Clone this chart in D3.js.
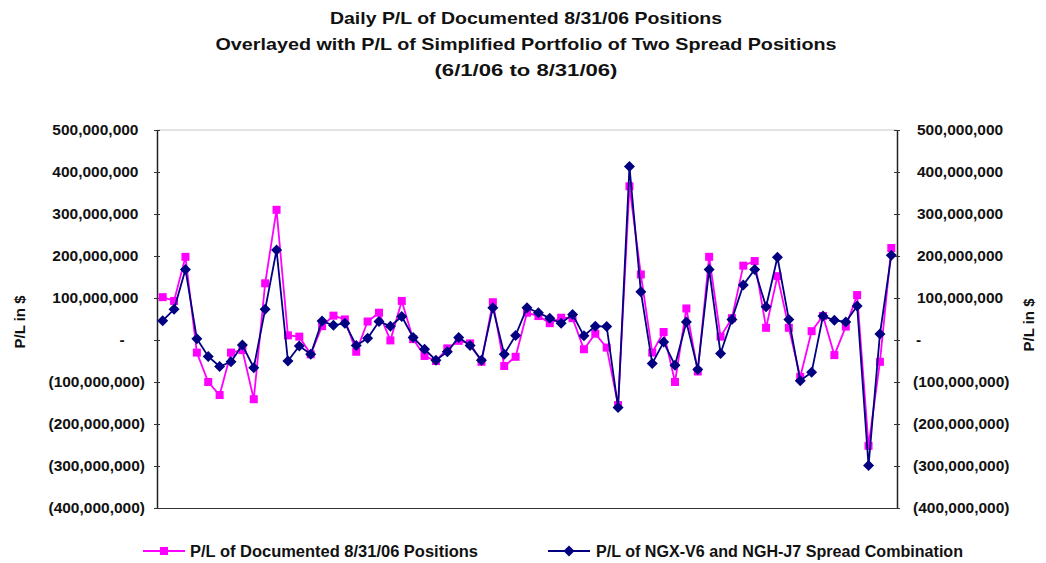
<!DOCTYPE html>
<html>
<head>
<meta charset="utf-8">
<script src="https://cdn.jsdelivr.net/npm/d3@7/dist/d3.min.js"></script>
<style>
  html, body { margin: 0; padding: 0; background: #fff; }
  svg { display: block; font-family: "Liberation Sans", Arial, sans-serif; }
</style>
</head>
<body>
<svg id="chart" width="1046" height="563"></svg>
<script>
// Trading days 6/1/06 - 8/31/06
const dates = [
  "6/1","6/2","6/5","6/6","6/7","6/8","6/9","6/12","6/13","6/14","6/15","6/16",
  "6/19","6/20","6/21","6/22","6/23","6/26","6/27","6/28","6/29","6/30",
  "7/3","7/5","7/6","7/7","7/10","7/11","7/12","7/13","7/14","7/17","7/18","7/19","7/20","7/21",
  "7/24","7/25","7/26","7/27","7/28","7/31",
  "8/1","8/2","8/3","8/4","8/7","8/8","8/9","8/10","8/11","8/14","8/15","8/16","8/17","8/18",
  "8/21","8/22","8/23","8/24","8/25","8/28","8/29","8/30","8/31"
];
// P/L of Documented 8/31/06 Positions (millions $)
const documentedPL = [
  102, 93, 198, -30, -100, -131, -30, -24, -141, 135, 310, 11,
  8, -34, 33, 58, 49, -28, 44, 65, -1, 93,
  2, -38, -50, -20, -2, -8, -52, 90, -62, -40, 65, 57, 40, 53,
  52, -22, 15, -18, -155, 366,
  156, -30, 19, -100, 75, -75, 198, 8, 52, 177, 188, 29, 152, 29,
  -88, 21, 57, -36, 32, 107, -252, -52, 219
];
// P/L of NGX-V6 and NGH-J7 Spread Combination (millions $)
const spreadPL = [
  46, 73, 168, 3, -39, -63, -52, -12, -66, 73, 214, -50,
  -14, -34, 45, 35, 40, -13, 4, 44, 33, 56,
  6, -22, -48, -28, 6, -13, -48, 77, -34, 11, 77, 65, 52, 40,
  61, 10, 33, 32, -161, 413,
  115, -56, -5, -60, 43, -70, 168, -32, 49, 131, 168, 79, 197, 49,
  -97, -77, 57, 47, 43, 81, -299, 14, 202
];
const tickValues = [500e6, 400e6, 300e6, 200e6, 100e6, 0, -100e6, -200e6, -300e6, -400e6];
const tickLabels = ["500,000,000","400,000,000","300,000,000","200,000,000","100,000,000","-",
  "(100,000,000)","(200,000,000)","(300,000,000)","(400,000,000)"];
const seriesNames = ["P/L of Documented 8/31/06 Positions", "P/L of NGX-V6 and NGH-J7 Spread Combination"];
const titleLines = ["Daily P/L of Documented 8/31/06 Positions",
  "Overlayed with P/L of Simplified Portfolio of Two Spread Positions",
  "(6/1/06 to 8/31/06)"];
const axisTitle = "P/L in $";

const PINK = "#ff00ff", NAVY = "#000080";
const svg = d3.select("#chart");
const L = 157, R = 897, T = 130, B = 508;

const x = d3.scaleBand().domain(dates).range([L, R]);
const y = d3.scaleLinear().domain([-400e6, 500e6]).range([B, T]);
const cx = d => x(d) + x.bandwidth() / 2;

// Title
const titleWidths = [392, 621, 183];
const title = svg.append("g").attr("font-weight", "bold").attr("font-size", 17).attr("fill", "#111").attr("text-anchor", "middle");
titleLines.forEach((t, i) => {
  title.append("text").attr("x", 526).attr("y", 24 + i * 26)
    .attr("textLength", titleWidths[i]).attr("lengthAdjust", "spacingAndGlyphs").text(t);
});

// Plot frame: top border, bottom axis line
svg.append("line").attr("x1", L).attr("x2", R).attr("y1", T).attr("y2", T).attr("stroke", "#c8c8c8").attr("stroke-width", 1);
svg.append("g").attr("transform", `translate(0,${B})`)
  .call(d3.axisBottom(x).tickSize(0).tickFormat(""))
  .call(g => g.select(".domain").attr("stroke", "#333").attr("stroke-width", 1.2));

// Left and right axes with crossing ticks
function drawAxis(xpos, axisFn) {
  const g = svg.append("g").attr("transform", `translate(${xpos},0)`)
    .call(axisFn(y).tickValues(tickValues).tickSizeOuter(0).tickSizeInner(3).tickFormat(""));
  g.select(".domain").attr("stroke", "#222").attr("stroke-width", 1.5);
  g.selectAll(".tick line").attr("x1", -3).attr("x2", 3).attr("stroke", "#333").attr("stroke-width", 1);
}
drawAxis(L, d3.axisLeft);
drawAxis(R, d3.axisRight);

// Tick labels (accounting style alignment)
const lab = svg.append("g").attr("font-weight", "bold").attr("font-size", 15.5).attr("fill", "#111");
tickValues.forEach((v, i) => {
  const s = tickLabels[i];
  const neg = s.startsWith("(");
  const zero = s === "-";
  // left
  lab.append("text")
    .attr("x", zero ? 122 : (neg ? 145 : 138.5))
    .attr("y", y(v)).attr("dy", "0.35em")
    .attr("text-anchor", zero ? "middle" : "end").text(s);
  // right
  lab.append("text")
    .attr("x", zero ? 918.5 : (neg ? 913 : 917))
    .attr("y", y(v)).attr("dy", "0.35em")
    .attr("text-anchor", zero ? "middle" : "start").text(s);
});

// Axis titles
svg.append("text").attr("transform", `translate(25,322) rotate(-90)`)
  .attr("text-anchor", "middle").attr("font-weight", "bold").attr("font-size", 15).attr("fill", "#111").text(axisTitle);
svg.append("text").attr("transform", `translate(1034,325) rotate(-90)`)
  .attr("text-anchor", "middle").attr("font-weight", "bold").attr("font-size", 15).attr("fill", "#111").text(axisTitle);

// Series
const line = d3.line().x((d, i) => cx(dates[i])).y(d => y(d * 1e6));
const sq = 8, dm = 5.5;
function square(g, px, py) {
  g.append("rect").attr("x", px - sq / 2).attr("y", py - sq / 2).attr("width", sq).attr("height", sq).attr("fill", PINK);
}
function diamond(g, px, py) {
  g.append("path").attr("d", `M${px},${py - dm}L${px + dm},${py}L${px},${py + dm}L${px - dm},${py}Z`).attr("fill", NAVY);
}

const s1 = svg.append("g");
s1.append("path").datum(documentedPL).attr("d", line).attr("fill", "none").attr("stroke", PINK).attr("stroke-width", 1.8);
documentedPL.forEach((v, i) => square(s1, cx(dates[i]), y(v * 1e6)));

const s2 = svg.append("g");
s2.append("path").datum(spreadPL).attr("d", line).attr("fill", "none").attr("stroke", NAVY).attr("stroke-width", 1.8);
spreadPL.forEach((v, i) => diamond(s2, cx(dates[i]), y(v * 1e6)));

// Legend
const legendWidths = [288, 367];
const lg = svg.append("g").attr("font-weight", "bold").attr("font-size", 16).attr("fill", "#111");
lg.append("line").attr("x1", 143).attr("x2", 185).attr("y1", 551).attr("y2", 551).attr("stroke", PINK).attr("stroke-width", 1.8);
square(lg, 164, 551);
lg.append("text").attr("x", 190).attr("y", 551).attr("dy", "0.35em")
  .attr("textLength", legendWidths[0]).attr("lengthAdjust", "spacingAndGlyphs").text(seriesNames[0]);
lg.append("line").attr("x1", 548).attr("x2", 590).attr("y1", 551).attr("y2", 551).attr("stroke", NAVY).attr("stroke-width", 1.8);
diamond(lg, 569, 551);
lg.append("text").attr("x", 596).attr("y", 551).attr("dy", "0.35em")
  .attr("textLength", legendWidths[1]).attr("lengthAdjust", "spacingAndGlyphs").text(seriesNames[1]);
</script>
</body>
</html>
